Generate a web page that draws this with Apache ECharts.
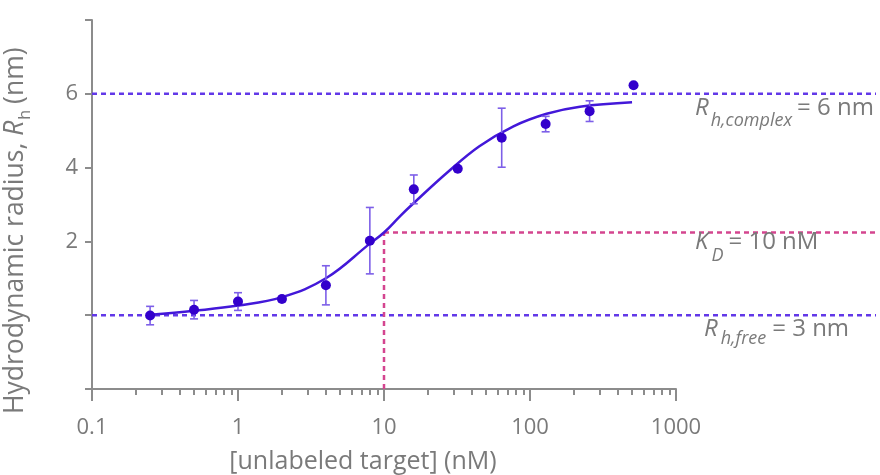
<!DOCTYPE html>
<html>
<head>
<meta charset="utf-8">
<script src="https://cdn.jsdelivr.net/npm/echarts@6/dist/echarts.min.js"></script>
<style>
html, body { margin: 0; background: #fff; }
#main { width: 880px; height: 475px; }
</style>
</head>
<body>
<div id="main"></div>
<script>
// measured points (2-fold dilution series)
const concentration = [0.25, 0.5, 1, 2, 4, 8, 16, 32, 64, 128, 256, 512];
const radius = [-0.01, 0.15, 0.37, 0.44, 0.81, 2.02, 3.41, 3.97, 4.81, 5.18, 5.53, 6.23];
const radiusErr = [0.25, 0.25, 0.24, 0.07, 0.53, 0.9, 0.39, 0, 0.8, 0.21, 0.28, 0];

// fitted curve
const fitX = [0.25, 0.5, 1, 2, 4, 8, 10, 13, 16, 27, 45, 77, 130, 220, 500];
const fitY = [0.01, 0.12, 0.26, 0.49, 1.0, 1.94, 2.24, 2.7, 3.04, 3.86, 4.58, 5.12, 5.46, 5.65, 5.77];

// reference levels
const levelComplex = 6;
const levelFree = 0;
const kd = 10;
const kdLevel = 2.24;

const yTickLabels = [2, 4, 6];
const xMin = 0.1, xMax = 1000;
const yMin = -2, yMax = 8;

const FONT = '"Open Sans", sans-serif';
const GRAY = '#7a7a7a';
const AXIS = '#8c8c8c';

const chart = echarts.init(document.getElementById('main'));

const ctx = document.createElement('canvas').getContext('2d');
// a run of text pieces (italic / subscript) placed one after another
function textRun(parts, x, y) {
  const out = [];
  parts.forEach(function (p) {
    const font = (p.italic ? 'italic ' : '') + p.size + 'px ' + FONT;
    ctx.font = font;
    out.push({
      type: 'text', x: x, y: y + (p.dy || 0), z: 10,
      style: { text: p.t, font: font, fill: GRAY, verticalAlign: 'middle' }
    });
    x += ctx.measureText(p.t).width + (p.gap || 0);
  });
  return out;
}

const option = {
  animation: false,
  grid: { left: 92, right: 204, top: 20, bottom: 86 },
  xAxis: {
    type: 'log',
    logBase: 10,
    min: xMin,
    max: xMax,
    axisLine: { onZero: false, lineStyle: { color: AXIS, width: 2 } },
    axisTick: { show: true, inside: false, length: 12, lineStyle: { color: AXIS, width: 2 } },
    minorTick: { show: true, splitNumber: 9, length: 6, lineStyle: { color: AXIS, width: 2 } },
    splitLine: { show: false },
    axisLabel: {
      color: GRAY, fontSize: 22, fontFamily: FONT, margin: 28,
      formatter: function (v) { return String(v); }
    }
  },
  yAxis: {
    type: 'value',
    min: yMin,
    max: yMax,
    interval: 2,
    axisLine: { show: true, lineStyle: { color: AXIS, width: 2 } },
    axisTick: { show: true, length: 7, lineStyle: { color: AXIS, width: 2 } },
    splitLine: { show: false },
    axisLabel: {
      color: GRAY, fontSize: 22, fontFamily: FONT, margin: 14,
      formatter: function (v) { return yTickLabels.indexOf(v) >= 0 ? String(v) : ''; }
    }
  },
  series: [
    {
      type: 'line',
      data: fitX.map(function (x, i) { return [x, fitY[i]]; }),
      smooth: 0.4,
      showSymbol: false,
      lineStyle: { color: '#4318d9', width: 2.5 },
      z: 3
    },
    {
      type: 'custom',
      data: concentration.map(function (x, i) { return [x, radius[i], radiusErr[i]]; }),
      renderItem: function (params, api) {
        const err = api.value(2);
        if (!err) return null;
        const lo = api.coord([api.value(0), api.value(1) - err]);
        const hi = api.coord([api.value(0), api.value(1) + err]);
        const w = 4;
        const st = { stroke: '#7d5fe8', lineWidth: 1.6 };
        return {
          type: 'group',
          children: [
            { type: 'line', shape: { x1: lo[0], y1: lo[1], x2: hi[0], y2: hi[1] }, style: st },
            { type: 'line', shape: { x1: lo[0] - w, y1: lo[1], x2: lo[0] + w, y2: lo[1] }, style: st },
            { type: 'line', shape: { x1: hi[0] - w, y1: hi[1], x2: hi[0] + w, y2: hi[1] }, style: st }
          ]
        };
      },
      z: 4
    },
    {
      type: 'scatter',
      data: concentration.map(function (x, i) { return [x, radius[i]]; }),
      symbolSize: 10,
      itemStyle: { color: '#3300cc', opacity: 1 },
      z: 5
    }
  ]
};
chart.setOption(option);

// dashed reference lines, placed through the axes
const rightEdge = 876;
function px(x, y) { return chart.convertToPixel({ gridIndex: 0 }, [x, y]); }
const pComplex = px(xMin, levelComplex);
const pFree = px(xMin, levelFree);
const pKd = px(kd, kdLevel);
const pKdBase = px(kd, yMin);
const dashBlue = { stroke: '#6238e8', lineWidth: 2.5, lineDash: [5, 4] };
const dashPink = { stroke: '#d4458f', lineWidth: 2.5, lineDash: [5, 4] };

const graphics = [
  { type: 'line', z: 1, shape: { x1: pComplex[0], y1: pComplex[1], x2: rightEdge, y2: pComplex[1] }, style: dashBlue },
  { type: 'line', z: 1, shape: { x1: pFree[0], y1: pFree[1], x2: rightEdge, y2: pFree[1] }, style: dashBlue },
  { type: 'line', z: 1, shape: { x1: pKd[0], y1: pKd[1], x2: rightEdge, y2: pKd[1] }, style: dashPink },
  { type: 'line', z: 1, shape: { x1: pKdBase[0], y1: pKdBase[1], x2: pKd[0], y2: pKd[1] }, style: dashPink },
  {
    type: 'text', x: 363, y: 462, z: 10,
    style: { text: '[unlabeled target] (nM)', font: '25px ' + FONT, fill: GRAY, align: 'center', verticalAlign: 'middle' }
  },
  {
    type: 'group', x: 15, y: 414, rotation: Math.PI / 2,
    children: textRun([
      { t: 'Hydrodynamic radius, ', size: 26.5 },
      { t: 'R', size: 26.5, italic: true, gap: 1 },
      { t: 'h', size: 16, dy: 10, gap: 6 },
      { t: '(nm)', size: 26.5 }
    ], 0, 0)
  }
]
  .concat(textRun([
    { t: 'R', size: 24, italic: true, gap: 2 },
    { t: 'h,complex', size: 18, italic: true, dy: 13, gap: 5 },
    { t: '= 6 nm', size: 24 }
  ], 695, 108))
  .concat(textRun([
    { t: 'K', size: 24, italic: true, gap: 3 },
    { t: 'D', size: 18, italic: true, dy: 14, gap: 5 },
    { t: '= 10 nM', size: 24 }
  ], 695, 242))
  .concat(textRun([
    { t: 'R', size: 24, italic: true, gap: 3 },
    { t: 'h,free', size: 18, italic: true, dy: 10, gap: 6 },
    { t: '= 3 nm', size: 24 }
  ], 704, 329));

chart.setOption({ graphic: graphics });
</script>
</body>
</html>
